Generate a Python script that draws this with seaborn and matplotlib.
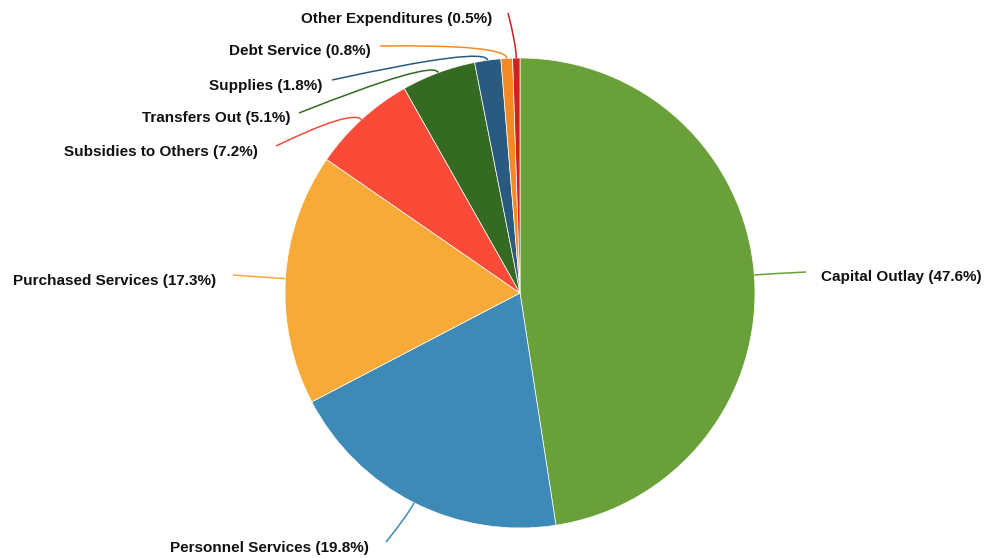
import numpy as np
import matplotlib
matplotlib.use("Agg")
import matplotlib.pyplot as plt
from matplotlib.path import Path
from matplotlib.patches import PathPatch
import seaborn as sns

# data
categories = ['Capital Outlay', 'Personnel Services', 'Purchased Services',
              'Subsidies to Others', 'Transfers Out', 'Supplies',
              'Debt Service', 'Other Expenditures']
shares = [47.6, 19.8, 17.3, 7.2, 5.1, 1.8, 0.8, 0.5]
colors = ['#6aa03a', '#3d8ab6', '#f7aa38', '#f94b38',
          '#346a22', '#2b5a80', '#f58a25', '#cc2222']

# label layout in pixels: line end, text anchor, alignment
label_layout = [
    ((806, 272), (821, 277), 'left'),
    ((386, 542), (369, 548), 'right'),
    ((233, 275), (216, 281), 'right'),
    ((276, 146), (258, 152), 'right'),
    ((299, 113), (291, 118), 'right'),
    ((332, 80), (322, 86), 'right'),
    ((380, 46), (371, 51), 'right'),
    ((508, 13), (492, 19), 'right'),
]

W, H = 984, 558
CX, CY, R = 520, 293, 235

sns.set_theme(style='white')
plt.rcParams['font.family'] = ['Liberation Sans', 'DejaVu Sans']


def px(x, y):
    return x, H - y


fig = plt.figure(figsize=(W / 100, H / 100), dpi=100)
ax = fig.add_axes([0, 0, 1, 1])

wedges, _ = ax.pie(shares, colors=colors, startangle=90, counterclock=False,
                   center=px(CX, CY), radius=R, frame=True,
                   wedgeprops=dict(edgecolor='white', linewidth=0.5))
ax.set_xlim(0, W)
ax.set_ylim(0, H)
ax.set_aspect('equal')
ax.axis('off')

for w, name, val, col, (end, txt, ha) in zip(wedges, categories, shares, colors, label_layout):
    mid = np.deg2rad((w.theta1 + w.theta2) / 2)
    sx, sy = CX + R * np.cos(mid), (H - CY) + R * np.sin(mid)
    cx, cy = CX + (R + 14) * np.cos(mid), (H - CY) + (R + 14) * np.sin(mid)
    ex, ey = px(*end)
    path = Path([(sx, sy), (cx, cy), (ex, ey)],
                [Path.MOVETO, Path.CURVE3, Path.CURVE3])
    ax.add_patch(PathPatch(path, facecolor='none', edgecolor=col, lw=1.1))
    ax.text(*px(*txt), f'{name} ({val}%)', ha=ha, va='center',
            fontsize=11, fontweight='bold', color='#111111')

fig.savefig('out.png', dpi=100)
